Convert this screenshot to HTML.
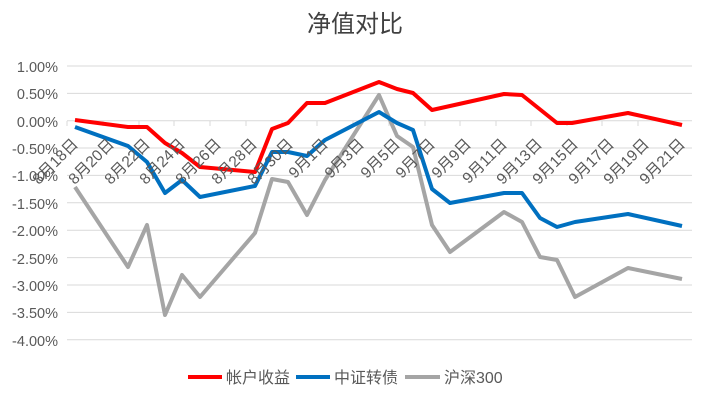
<!DOCTYPE html>
<html><head><meta charset="utf-8"><style>
body{margin:0;background:#fff}
svg{display:block;font-family:"Liberation Sans","Noto Sans CJK SC",sans-serif}
</style></head><body>
<svg width="710" height="401" viewBox="0 0 710 401">
<rect width="710" height="401" fill="#fff"/>
<text x="355" y="32" text-anchor="middle" font-size="24" fill="#404040" font-family="'Noto Sans CJK SC',sans-serif">净值对比</text>
<g stroke="#d9d9d9" stroke-width="1">
<line x1="67" x2="692" y1="66" y2="66"/><line x1="67" x2="692" y1="93.4" y2="93.4"/>
<line x1="67" x2="692" y1="148" y2="148"/><line x1="67" x2="692" y1="175.4" y2="175.4"/>
<line x1="67" x2="692" y1="202.8" y2="202.8"/><line x1="67" x2="692" y1="230.2" y2="230.2"/>
<line x1="67" x2="692" y1="257.6" y2="257.6"/><line x1="67" x2="692" y1="285" y2="285"/>
<line x1="67" x2="692" y1="312.4" y2="312.4"/><line x1="67" x2="692" y1="339.8" y2="339.8"/>
<line x1="67" x2="692" y1="120.7" y2="120.7"/>
</g>
<g stroke="#d9d9d9" stroke-width="1">
<line x1="67" x2="67" y1="121" y2="126"/><line x1="103" x2="103" y1="121" y2="126"/><line x1="139" x2="139" y1="121" y2="126"/><line x1="174" x2="174" y1="121" y2="126"/><line x1="210" x2="210" y1="121" y2="126"/><line x1="246" x2="246" y1="121" y2="126"/><line x1="282" x2="282" y1="121" y2="126"/><line x1="317" x2="317" y1="121" y2="126"/><line x1="353" x2="353" y1="121" y2="126"/><line x1="389" x2="389" y1="121" y2="126"/><line x1="425" x2="425" y1="121" y2="126"/><line x1="460" x2="460" y1="121" y2="126"/><line x1="496" x2="496" y1="121" y2="126"/><line x1="531" x2="531" y1="121" y2="126"/><line x1="567" x2="567" y1="121" y2="126"/><line x1="602" x2="602" y1="121" y2="126"/><line x1="638" x2="638" y1="121" y2="126"/><line x1="674" x2="674" y1="121" y2="126"/>
</g>
<g font-size="14.5" fill="#595959" text-anchor="end">
<text x="58" y="72">1.00%</text><text x="58" y="99">0.50%</text><text x="58" y="127">0.00%</text><text x="58" y="154">-0.50%</text><text x="58" y="181">-1.00%</text><text x="58" y="209">-1.50%</text><text x="58" y="236">-2.00%</text><text x="58" y="264">-2.50%</text><text x="58" y="291">-3.00%</text><text x="58" y="318">-3.50%</text><text x="58" y="346">-4.00%</text>
</g>
<g fill="none" stroke-width="4" stroke-linejoin="round">
<polyline stroke="#a5a5a5" points="75,187 128,267 147,225 165,315 182,275 200,297 255,233 272,179 288,182 307,215 325,180 379,95 397,136 413,147 432,225 450,252 504,212 522,222 540,257 557,260 575,297 628,268 682,279"/>
<polyline stroke="#0070c0" points="75,127 128,146 147,162 165,193 182,180 200,197 255,186 272,152 288,152 307,156 325,140 379,112 397,123 413,130 432,189 450,203 504,193 522,193 540,218 557,227 575,222 628,214 682,226"/>
<polyline stroke="#ff0000" points="75,120 128,127 147,127 165,143 182,153 200,167 255,172 272,129 288,123 307,103 325,103 379,82 397,89 413,93 432,110 504,94 522,95 557,123 572,123 628,113 682,125"/>
</g>
<g font-size="15.5" fill="#595959" text-anchor="end">
<text transform="translate(79,145) rotate(-45)">8月18日</text>
<text transform="translate(115,145) rotate(-45)">8月20日</text>
<text transform="translate(151,145) rotate(-45)">8月22日</text>
<text transform="translate(186,145) rotate(-45)">8月24日</text>
<text transform="translate(222,145) rotate(-45)">8月26日</text>
<text transform="translate(258,145) rotate(-45)">8月28日</text>
<text transform="translate(294,145) rotate(-45)">8月30日</text>
<text transform="translate(329,145) rotate(-45)">9月1日</text>
<text transform="translate(365,145) rotate(-45)">9月3日</text>
<text transform="translate(401,145) rotate(-45)">9月5日</text>
<text transform="translate(436,145) rotate(-45)">9月7日</text>
<text transform="translate(472,145) rotate(-45)">9月9日</text>
<text transform="translate(508,145) rotate(-45)">9月11日</text>
<text transform="translate(543,145) rotate(-45)">9月13日</text>
<text transform="translate(579,145) rotate(-45)">9月15日</text>
<text transform="translate(615,145) rotate(-45)">9月17日</text>
<text transform="translate(650,145) rotate(-45)">9月19日</text>
<text transform="translate(686,145) rotate(-45)">9月21日</text>
</g>
<g stroke-width="4">
<line x1="188" x2="222" y1="377" y2="377" stroke="#ff0000"/>
<line x1="296" x2="330" y1="377" y2="377" stroke="#0070c0"/>
<line x1="405" x2="440" y1="377" y2="377" stroke="#a5a5a5"/>
</g>
<g font-size="16" fill="#595959">
<text x="226" y="383">帐户收益</text><text x="334" y="383">中证转债</text><text x="444" y="383">沪深300</text>
</g>
</svg>
</body></html>
